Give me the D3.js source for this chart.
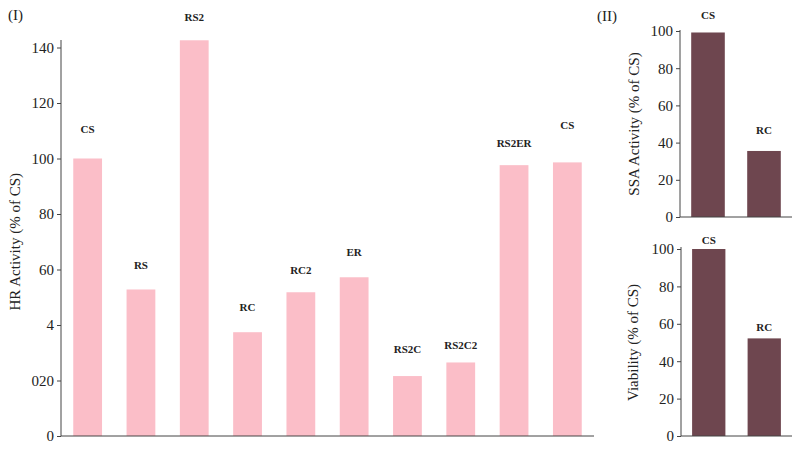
<!DOCTYPE html>
<html>
<head>
<meta charset="utf-8">
<script src="https://cdn.jsdelivr.net/npm/d3@7"></script>
<style>
  body { margin: 0; background: #fff; }
  svg { font-family: "Liberation Serif", "DejaVu Serif", serif; }
  .axis path, .axis line { stroke: #444; }
  .axis text { font-size: 15px; fill: #222; font-family: "Liberation Serif", serif; }
  .bar-label { font-size: 11px; font-weight: bold; fill: #222; text-anchor: middle; }
  .axis-title { font-size: 15px; fill: #222; text-anchor: middle; }
</style>
</head>
<body>
<div id="chart"></div>
<script>
// panel I: HR activity
const hrCats = ["CS", "RS", "RS2", "RC", "RC2", "ER", "RS2C", "RS2C2", "RS2ER", "CS"];
const hrValues = [100, 52.8, 142.6, 37.4, 51.8, 57.2, 21.6, 26.5, 97.6, 98.6];
const hrLabelAt = [110.4, 61.6, 150.9, 46.6, 59.8, 66.4, 31.3, 32.8, 105.5, 112];
const hrTicks = [0, 20, 40, 60, 80, 100, 120, 140];
const hrTickText = ["0", "020", "4", "60", "80", "100", "120", "140"];

// panel II: SSA activity and viability
const smallCats = ["CS", "RC"];
const ssaValues = [99.2, 35.5];
const ssaLabelAt = [108.6, 46.9];
const viaValues = [100, 52.2];
const viaLabelAt = [104.8, 58.4];
const smallTicks = [0, 20, 40, 60, 80, 100];

const W = 800, H = 449;
const svg = d3.select('#chart').append('svg')
    .attr('width', W)
    .attr('height', H);

function barPanel(cfg) {
  const x = d3.scaleBand()
      .domain(d3.range(cfg.cats.length))
      .range([cfg.left, cfg.right])
      .paddingInner(cfg.pad)
      .paddingOuter(cfg.pad / 2);

  const y = d3.scaleLinear()
      .domain(cfg.domain)
      .range([cfg.bottom, cfg.top]);

  const g = svg.append('g');

  g.selectAll('rect.bar')
      .data(cfg.values)
    .join('rect')
      .attr('class', 'bar')
      .attr('x', (d, i) => x(i))
      .attr('width', x.bandwidth())
      .attr('y', d => y(d))
      .attr('height', d => y(0) - y(d))
      .attr('fill', cfg.color);

  g.selectAll('text.bar-label')
      .data(cfg.cats)
    .join('text')
      .attr('class', 'bar-label')
      .attr('x', (d, i) => x(i) + x.bandwidth() / 2)
      .attr('y', (d, i) => y(cfg.labelAt[i]))
      .attr('dy', '.35em')
      .text(d => d);

  const yAxis = d3.axisLeft(y)
      .tickValues(cfg.ticks)
      .tickSize(4)
      .tickPadding(3)
      .tickSizeOuter(0);
  if (cfg.tickText) yAxis.tickFormat((d, i) => cfg.tickText[i]);

  g.append('g')
      .attr('class', 'axis')
      .attr('transform', `translate(${cfg.left},0)`)
      .call(yAxis)
      .call(a => a.select('.domain').attr('d', `M0,${cfg.bottom}V${cfg.axisTop}`));

  g.append('line')
      .attr('class', 'x-line')
      .attr('x1', cfg.left).attr('x2', cfg.right)
      .attr('y1', cfg.bottom).attr('y2', cfg.bottom)
      .attr('stroke', '#444');

  g.append('text')
      .attr('class', 'axis-title')
      .attr('transform', `translate(${cfg.titleX},${(cfg.top + cfg.bottom) / 2}) rotate(-90)`)
      .attr('dy', '.35em')
      .text(cfg.title);
}

barPanel({
  cats: hrCats, values: hrValues, labelAt: hrLabelAt,
  ticks: hrTicks, tickText: hrTickText, domain: [0, 140],
  left: 61, right: 594, top: 47.5, bottom: 436, axisTop: 40,
  pad: 0.46, color: '#fbbec8',
  title: 'HR Activity (% of CS)', titleX: 15
});

barPanel({
  cats: smallCats, values: ssaValues, labelAt: ssaLabelAt,
  ticks: smallTicks, domain: [0, 100],
  left: 680, right: 792, top: 31, bottom: 217, axisTop: 30,
  pad: 0.4, color: '#6e464f',
  title: 'SSA Activity (% of CS)', titleX: 634
});

barPanel({
  cats: smallCats, values: viaValues, labelAt: viaLabelAt,
  ticks: smallTicks, domain: [0, 100],
  left: 681, right: 792, top: 249, bottom: 436, axisTop: 247,
  pad: 0.4, color: '#6e464f',
  title: 'Viability (% of CS)', titleX: 633
});

svg.append('text').attr('x', 8).attr('y', 20)
    .attr('font-size', 15).attr('fill', '#222').text('(I)');
svg.append('text').attr('x', 597).attr('y', 21)
    .attr('font-size', 15).attr('fill', '#222').text('(II)');
</script>
</body>
</html>
